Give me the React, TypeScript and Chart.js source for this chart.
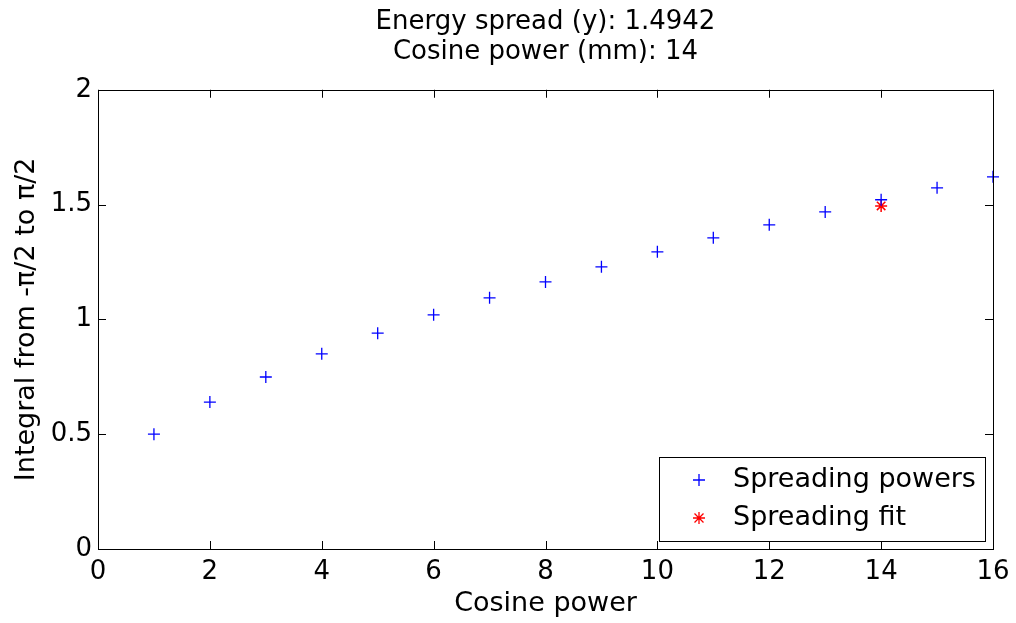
import React, { useEffect, useRef } from "react";
import { Chart, registerables } from "chart.js";

Chart.register(...registerables);

const FONT = "'DejaVu Sans', 'Liberation Sans', Arial, sans-serif";

const titleLines = ["Energy spread (y): 1.4942", "Cosine power (mm): 14"];
const xAxisTitle = "Cosine power";
const yAxisTitle = "Integral from -π/2 to π/2";

const powers = [1, 2, 3, 4, 5, 6, 7, 8, 9, 10, 11, 12, 13, 14, 15, 16];
const integrals = [0.5, 0.64, 0.749, 0.85, 0.94, 1.02, 1.094, 1.163, 1.229, 1.294, 1.355, 1.412, 1.468, 1.521, 1.573, 1.621];

const fitPower = [14];
const fitIntegral = [1.4942];

const xTicks = [0, 2, 4, 6, 8, 10, 12, 14, 16];
const yTicks = [0, 0.5, 1, 1.5, 2];

const seriesLabels = ["Spreading powers", "Spreading fit"];

function drawPlus(ctx: CanvasRenderingContext2D, x: number, y: number, r: number, color: string) {
  ctx.save();
  ctx.strokeStyle = color;
  ctx.lineWidth = 1.3;
  ctx.beginPath();
  ctx.moveTo(x - r, y);
  ctx.lineTo(x + r, y);
  ctx.moveTo(x, y - r);
  ctx.lineTo(x, y + r);
  ctx.stroke();
  ctx.restore();
}

function drawStar(ctx: CanvasRenderingContext2D, x: number, y: number, r: number, color: string) {
  ctx.save();
  ctx.strokeStyle = color;
  ctx.lineWidth = 1.3;
  ctx.beginPath();
  ctx.moveTo(x - r, y);
  ctx.lineTo(x + r, y);
  ctx.moveTo(x, y - r);
  ctx.lineTo(x, y + r);
  const d = r * 0.75;
  ctx.moveTo(x - d, y - d);
  ctx.lineTo(x + d, y + d);
  ctx.moveTo(x - d, y + d);
  ctx.lineTo(x + d, y - d);
  ctx.stroke();
  ctx.restore();
}

const boxPlugin = {
  id: "matlabBox",
  afterDatasetsDraw(chart: any) {
    const { ctx, chartArea } = chart;
    const { left, right, top, bottom } = chartArea;
    const xs = chart.scales.x;
    const ys = chart.scales.y;
    const tl = 8;
    ctx.save();
    ctx.strokeStyle = "#000";
    ctx.lineWidth = 1;
    ctx.beginPath();
    for (const t of xTicks) {
      const px = Math.round(xs.getPixelForValue(t)) + 0.5;
      ctx.moveTo(px, bottom);
      ctx.lineTo(px, bottom - tl);
      ctx.moveTo(px, top);
      ctx.lineTo(px, top + tl);
    }
    for (const t of yTicks) {
      const py = Math.round(ys.getPixelForValue(t)) + 0.5;
      ctx.moveTo(left, py);
      ctx.lineTo(left + tl, py);
      ctx.moveTo(right, py);
      ctx.lineTo(right - tl, py);
    }
    ctx.stroke();
    ctx.strokeRect(Math.round(left) + 0.5, Math.round(top) + 0.5, Math.round(right - left), Math.round(bottom - top));

    // legend
    const w = 326;
    const h = 84;
    const bx = Math.round(right) - 8 - w;
    const by = Math.round(bottom) - 8 - h;
    ctx.fillStyle = "#fff";
    ctx.fillRect(bx, by, w, h);
    ctx.strokeRect(bx + 0.5, by + 0.5, w, h);
    const row1 = by + 23;
    const row2 = by + 61;
    drawPlus(ctx, bx + 40, row1, 6, "#0000ff");
    drawStar(ctx, bx + 40, row2, 6, "#ff0000");
    ctx.fillStyle = "#000";
    ctx.font = `27px ${FONT}`;
    ctx.textBaseline = "middle";
    ctx.textAlign = "left";
    ctx.fillText(seriesLabels[0], bx + 74, row1);
    ctx.fillText(seriesLabels[1], bx + 74, row2);
    ctx.restore();
  },
};

export default function App() {
  const ref = useRef<HTMLCanvasElement>(null);
  useEffect(() => {
    document.body.style.margin = "0";
    const canvas = ref.current!;
    const font = { family: FONT, size: 26, weight: "normal" as const };
    const titleFont = { family: FONT, size: 27, weight: "normal" as const };
    const chart = new Chart(canvas, {
      type: "scatter",
      data: {
        datasets: [
          {
            label: seriesLabels[0],
            data: powers.map((p, i) => ({ x: p, y: integrals[i] })),
            pointStyle: "cross",
            radius: 6,
            borderColor: "#0000ff",
            backgroundColor: "#0000ff",
            borderWidth: 1.3,
            clip: false as any,
          },
          {
            label: seriesLabels[1],
            data: fitPower.map((p, i) => ({ x: p, y: fitIntegral[i] })),
            pointStyle: "star",
            radius: 6,
            borderColor: "#ff0000",
            backgroundColor: "#ff0000",
            borderWidth: 1.5,
            clip: false as any,
          },
        ],
      },
      options: {
        animation: false,
        responsive: false,
        layout: { padding: { top: 0, right: 23, bottom: 0, left: 0 } },
        plugins: {
          legend: { display: false },
          tooltip: { enabled: false },
          title: {
            display: true,
            fullSize: false,
            text: titleLines,
            color: "#000",
            font: { family: FONT, size: 26, weight: "normal", lineHeight: 1.13 },
            padding: { top: 8, bottom: 23 },
          },
        },
        scales: {
          x: {
            type: "linear",
            min: 0,
            max: 16,
            afterFit: (s: any) => {
              s.height = 74;
              s.paddingLeft = 0;
              s.paddingRight = 0;
            },
            afterBuildTicks: (s: any) => {
              s.ticks = xTicks.map((v) => ({ value: v }));
            },
            ticks: { color: "#000", font, padding: 8, maxRotation: 0, callback: (v: any) => String(v) },
            grid: { display: false, drawTicks: false },
            border: { display: false },
            title: { display: true, text: xAxisTitle, color: "#000", font: titleFont, padding: { top: 0, bottom: 3 } },
          },
          y: {
            type: "linear",
            min: 0,
            max: 2,
            afterFit: (s: any) => {
              s.width = 98;
              s.paddingTop = 0;
              s.paddingBottom = 0;
            },
            afterBuildTicks: (s: any) => {
              s.ticks = yTicks.map((v) => ({ value: v }));
            },
            ticks: { color: "#000", font, padding: 6, callback: (v: any) => String(v) },
            grid: { display: false, drawTicks: false },
            border: { display: false },
            title: { display: true, text: yAxisTitle, color: "#000", font: titleFont, padding: { top: 11, bottom: 0 } },
          },
        },
      } as any,
      plugins: [boxPlugin],
    });
    return () => chart.destroy();
  }, []);
  return (
    <div style={{ width: 1016, height: 623, background: "#fff" }}>
      <canvas ref={ref} width={1016} height={623} style={{ display: "block" }} />
    </div>
  );
}
